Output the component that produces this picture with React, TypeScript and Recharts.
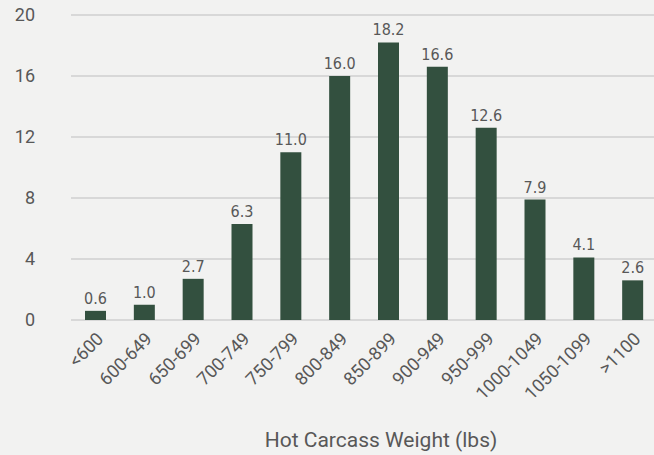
import { BarChart, Bar, XAxis, YAxis, CartesianGrid, LabelList, Label } from 'recharts'

const weightBins = ['<600', '600-649', '650-699', '700-749', '750-799', '800-849', '850-899', '900-949', '950-999', '1000-1049', '1050-1099', '>1100']
const percentValues = [0.6, 1.0, 2.7, 6.3, 11.0, 16.0, 18.2, 16.6, 12.6, 7.9, 4.1, 2.6]
const yTicks = [0, 4, 8, 12, 16, 20]

const chartData = weightBins.map((bin, i) => ({ bin, value: percentValues[i] }))

const textGray = '#585858'

export default function App() {
  return (
    <div style={{ position: 'fixed', left: 0, top: 0, width: 654, height: 455, overflow: 'hidden', background: '#f2f2f1' }}>
      <BarChart
        width={658}
        height={455}
        data={chartData}
        margin={{ top: 15, right: 1, bottom: 0, left: 0 }}
      >
        <CartesianGrid vertical={false} stroke="#cfcfcf" strokeWidth={1.5} />
        <XAxis
          dataKey="bin"
          interval={0}
          axisLine={false}
          tickLine={false}
          height={135}
          angle={-45}
          textAnchor="end"
          tick={{ fill: textGray, fontSize: 18, fontFamily: 'Roboto, sans-serif' }}
          tickMargin={5}
        >
          <Label
            value="Hot Carcass Weight (lbs)"
            position="insideBottom"
            offset={8}
            dx={17}
            style={{ fill: textGray, fontSize: 21, fontFamily: 'Roboto, sans-serif' }}
          />
        </XAxis>
        <YAxis
          domain={[0, 20]}
          ticks={yTicks}
          width={71}
          axisLine={false}
          tickLine={false}
          tickMargin={30}
          tick={{ fill: textGray, fontSize: 18, fontFamily: 'Roboto, sans-serif' }}
        />
        <Bar dataKey="value" fill="#33503f" barSize={21} isAnimationActive={false}>
          <LabelList
            dataKey="value"
            position="top"
            offset={7}
            formatter={(v: number) => v.toFixed(1)}
            style={{ fill: textGray, fontSize: 16, fontFamily: "'Liberation Sans Narrow', 'DejaVu Sans Condensed', sans-serif" }}
          />
        </Bar>
      </BarChart>
    </div>
  )
}
